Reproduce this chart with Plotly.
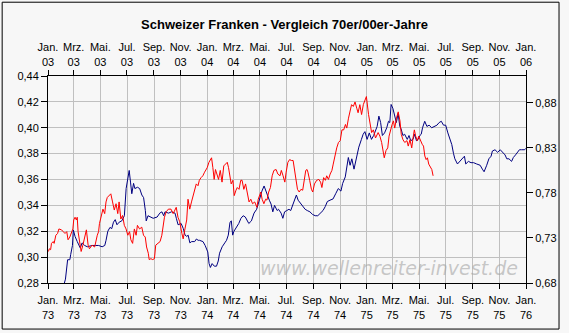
import plotly.graph_objects as go

# Swiss franc in US dollars, 1973-1975 (left axis, bottom date axis)
chf_70_dates = [
    "1973-01-02", "1973-01-22", "1973-02-01", "1973-02-07", "1973-02-10", "1973-02-15", "1973-02-20",
    "1973-02-22", "1973-02-26", "1973-02-28", "1973-03-04", "1973-03-09", "1973-03-13", "1973-03-16",
    "1973-03-20", "1973-03-26", "1973-04-01", "1973-04-12", "1973-04-20", "1973-04-27", "1973-05-05",
    "1973-05-11", "1973-05-14", "1973-05-18", "1973-05-23", "1973-05-27", "1973-05-31", "1973-06-04",
    "1973-06-08", "1973-06-13", "1973-06-19", "1973-06-25", "1973-06-29", "1973-07-03", "1973-07-06",
    "1973-07-09", "1973-07-12", "1973-07-16", "1973-07-19", "1973-07-25", "1973-07-30", "1973-08-04",
    "1973-08-08", "1973-08-12", "1973-08-14", "1973-08-18", "1973-08-23", "1973-08-30", "1973-09-08",
    "1973-09-14", "1973-09-19", "1973-09-23", "1973-09-26", "1973-10-04", "1973-10-11", "1973-10-19",
    "1973-10-22", "1973-10-26", "1973-11-02", "1973-11-07", "1973-11-11", "1973-11-15", "1973-11-18",
    "1973-11-22", "1973-11-26", "1973-12-03", "1973-12-07", "1973-12-11", "1973-12-14", "1973-12-22",
    "1973-12-27", "1974-01-02", "1974-01-05", "1974-01-08", "1974-01-12", "1974-01-17", "1974-01-22",
    "1974-01-26", "1974-01-29", "1974-02-04", "1974-02-10", "1974-02-14", "1974-02-18", "1974-02-22",
    "1974-02-25", "1974-02-28", "1974-03-03", "1974-03-09", "1974-03-14", "1974-03-19", "1974-03-24",
    "1974-03-29", "1974-04-03", "1974-04-06", "1974-04-12", "1974-04-18", "1974-04-24", "1974-04-29",
    "1974-05-03", "1974-05-06", "1974-05-11", "1974-05-16", "1974-05-19", "1974-05-23", "1974-05-27",
    "1974-05-31", "1974-06-04", "1974-06-10", "1974-06-13", "1974-06-19", "1974-06-23", "1974-06-27",
    "1974-07-02", "1974-07-07", "1974-07-11", "1974-07-16", "1974-07-21", "1974-07-24", "1974-07-28",
    "1974-08-03", "1974-08-08", "1974-08-13", "1974-08-18", "1974-08-24", "1974-08-30", "1974-09-05",
    "1974-09-11", "1974-09-17", "1974-09-23", "1974-09-28", "1974-10-03", "1974-10-09", "1974-10-16",
    "1974-10-22", "1974-10-28", "1974-11-03", "1974-11-07", "1974-11-13", "1974-11-16", "1974-11-20",
    "1974-11-24", "1974-11-28", "1974-12-03", "1974-12-07", "1974-12-10", "1974-12-14", "1974-12-20",
    "1974-12-24", "1974-12-28", "1975-01-02", "1975-01-07", "1975-01-12", "1975-01-17", "1975-01-23",
    "1975-01-25", "1975-01-29", "1975-02-02", "1975-02-06", "1975-02-11", "1975-02-16", "1975-02-20",
    "1975-02-23", "1975-02-26", "1975-03-02", "1975-03-06", "1975-03-10", "1975-03-14", "1975-03-18",
    "1975-03-21", "1975-03-25", "1975-03-29", "1975-04-04", "1975-04-08", "1975-04-12", "1975-04-17",
    "1975-04-21", "1975-04-25", "1975-04-29", "1975-05-03", "1975-05-06", "1975-05-09", "1975-05-14",
    "1975-05-19", "1975-05-24", "1975-05-30", "1975-06-06", "1975-06-11", "1975-06-16", "1975-06-21",
    "1975-06-26", "1975-07-01", "1975-07-06", "1975-07-11", "1975-07-15", "1975-07-19", "1975-07-22",
    "1975-07-28", "1975-08-03", "1975-08-08", "1975-08-13", "1975-08-16", "1975-08-22", "1975-08-28",
    "1975-09-03", "1975-09-10", "1975-09-18", "1975-09-23", "1975-09-27", "1975-10-03", "1975-10-08",
    "1975-10-13", "1975-10-16", "1975-10-22", "1975-10-28", "1975-11-03", "1975-11-08", "1975-11-14",
    "1975-11-18", "1975-11-23", "1975-11-29", "1975-12-03", "1975-12-08", "1975-12-12", "1975-12-17",
    "1975-12-22", "1975-12-29", "1975-12-31",
]
chf_70_values = [
    0.262, 0.264, 0.272, 0.280, 0.283, 0.298, 0.298,
    0.302, 0.309, 0.321, 0.316, 0.312, 0.309, 0.307,
    0.311, 0.309, 0.308, 0.309, 0.309, 0.309, 0.308,
    0.309, 0.313, 0.320, 0.323, 0.322, 0.327, 0.329,
    0.325, 0.327, 0.328, 0.332, 0.353, 0.363, 0.367,
    0.358, 0.349, 0.357, 0.353, 0.354, 0.353, 0.348,
    0.346, 0.336, 0.328, 0.332, 0.331, 0.330, 0.331,
    0.334, 0.335, 0.332, 0.335, 0.334, 0.335, 0.334,
    0.330, 0.325, 0.326, 0.322, 0.317, 0.316, 0.317,
    0.311, 0.312, 0.312, 0.314, 0.313, 0.313, 0.312,
    0.309, 0.304, 0.295, 0.292, 0.295, 0.293, 0.293,
    0.297, 0.303, 0.308, 0.311, 0.313, 0.317, 0.327,
    0.328, 0.317, 0.320, 0.323, 0.326, 0.330, 0.332,
    0.331, 0.327, 0.326, 0.328, 0.334, 0.337, 0.343,
    0.348, 0.351, 0.355, 0.350, 0.348, 0.344, 0.341,
    0.335, 0.340, 0.336, 0.337, 0.334, 0.330, 0.335,
    0.336, 0.337, 0.336, 0.341, 0.345, 0.348, 0.344,
    0.341, 0.339, 0.337, 0.336, 0.335, 0.333, 0.332,
    0.332, 0.334, 0.336, 0.339, 0.343, 0.344, 0.345,
    0.349, 0.353, 0.351, 0.357, 0.362, 0.368, 0.377,
    0.371, 0.376, 0.368, 0.374, 0.380, 0.385, 0.391,
    0.395, 0.397, 0.391, 0.396, 0.391, 0.394, 0.400,
    0.401, 0.409, 0.404, 0.394, 0.396, 0.400, 0.405,
    0.404, 0.418, 0.415, 0.409, 0.404, 0.411, 0.401,
    0.399, 0.394, 0.395, 0.391, 0.394, 0.390, 0.391,
    0.395, 0.390, 0.391, 0.394, 0.395, 0.400, 0.405,
    0.401, 0.402, 0.400, 0.401, 0.402, 0.404, 0.405,
    0.402, 0.402, 0.396, 0.391, 0.387, 0.380, 0.376,
    0.372, 0.374, 0.376, 0.378, 0.372, 0.374, 0.373,
    0.373, 0.372, 0.371, 0.368, 0.366, 0.371, 0.376,
    0.378, 0.382, 0.383, 0.381, 0.383, 0.381, 0.379,
    0.376, 0.376, 0.374, 0.377, 0.379, 0.381, 0.383,
    0.383, 0.383, 0.384,
]

# Swiss franc in US dollars, 2003-2005 (right axis, top date axis)
chf_00_dates = [
    "2003-01-02", "2003-01-04", "2003-01-07", "2003-01-09", "2003-01-13", "2003-01-15", "2003-01-19",
    "2003-01-23", "2003-01-26", "2003-02-01", "2003-02-05", "2003-02-09", "2003-02-13", "2003-02-16",
    "2003-02-20", "2003-02-24", "2003-02-27", "2003-03-01", "2003-03-04", "2003-03-07", "2003-03-09",
    "2003-03-11", "2003-03-14", "2003-03-18", "2003-03-22", "2003-03-26", "2003-03-30", "2003-04-03",
    "2003-04-06", "2003-04-12", "2003-04-18", "2003-04-24", "2003-04-27", "2003-04-29", "2003-05-03",
    "2003-05-07", "2003-05-11", "2003-05-14", "2003-05-17", "2003-05-22", "2003-05-25", "2003-05-29",
    "2003-06-02", "2003-06-06", "2003-06-10", "2003-06-13", "2003-06-17", "2003-06-21", "2003-06-25",
    "2003-06-29", "2003-07-03", "2003-07-07", "2003-07-10", "2003-07-14", "2003-07-18", "2003-07-22",
    "2003-07-25", "2003-07-30", "2003-08-04", "2003-08-08", "2003-08-12", "2003-08-15", "2003-08-19",
    "2003-08-21", "2003-08-25", "2003-08-29", "2003-09-02", "2003-09-05", "2003-09-10", "2003-09-15",
    "2003-09-19", "2003-09-22", "2003-09-25", "2003-09-29", "2003-10-04", "2003-10-10", "2003-10-15",
    "2003-10-19", "2003-10-22", "2003-10-26", "2003-10-30", "2003-11-04", "2003-11-07", "2003-11-11",
    "2003-11-15", "2003-11-18", "2003-11-22", "2003-11-26", "2003-11-30", "2003-12-03", "2003-12-07",
    "2003-12-11", "2003-12-14", "2003-12-18", "2003-12-22", "2003-12-26", "2004-01-01", "2004-01-05",
    "2004-01-08", "2004-01-11", "2004-01-14", "2004-01-17", "2004-01-20", "2004-01-23", "2004-01-27",
    "2004-01-31", "2004-02-04", "2004-02-08", "2004-02-12", "2004-02-16", "2004-02-19", "2004-02-22",
    "2004-02-25", "2004-02-29", "2004-03-03", "2004-03-07", "2004-03-10", "2004-03-14", "2004-03-18",
    "2004-03-21", "2004-03-25", "2004-03-29", "2004-04-03", "2004-04-06", "2004-04-10", "2004-04-14",
    "2004-04-19", "2004-04-24", "2004-04-27", "2004-05-03", "2004-05-06", "2004-05-10", "2004-05-14",
    "2004-05-17", "2004-05-21", "2004-05-25", "2004-05-29", "2004-06-02", "2004-06-07", "2004-06-11",
    "2004-06-16", "2004-06-19", "2004-06-23", "2004-06-27", "2004-06-30", "2004-07-04", "2004-07-08",
    "2004-07-12", "2004-07-16", "2004-07-19", "2004-07-22", "2004-07-26", "2004-07-30", "2004-08-03",
    "2004-08-07", "2004-08-11", "2004-08-14", "2004-08-17", "2004-08-19", "2004-08-23", "2004-08-27",
    "2004-08-30", "2004-09-03", "2004-09-08", "2004-09-13", "2004-09-17", "2004-09-20", "2004-09-24",
    "2004-09-28", "2004-10-01", "2004-10-05", "2004-10-09", "2004-10-13", "2004-10-16", "2004-10-20",
    "2004-10-24", "2004-10-28", "2004-11-01", "2004-11-05", "2004-11-09", "2004-11-13", "2004-11-16",
    "2004-11-20", "2004-11-24", "2004-11-27", "2004-12-01", "2004-12-05", "2004-12-09", "2004-12-12",
    "2004-12-16", "2004-12-20", "2004-12-24", "2004-12-27", "2004-12-31", "2005-01-05", "2005-01-08",
    "2005-01-12", "2005-01-16", "2005-01-21", "2005-01-27", "2005-01-31", "2005-02-04", "2005-02-08",
    "2005-02-10", "2005-02-14", "2005-02-18", "2005-02-21", "2005-02-25", "2005-02-28", "2005-03-03",
    "2005-03-06", "2005-03-10", "2005-03-14", "2005-03-18", "2005-03-21", "2005-03-25", "2005-03-29",
    "2005-04-03", "2005-04-06", "2005-04-10", "2005-04-14", "2005-04-17", "2005-04-20", "2005-04-23",
    "2005-04-27", "2005-04-30", "2005-05-04", "2005-05-08", "2005-05-11", "2005-05-14", "2005-05-17",
    "2005-05-20", "2005-05-23", "2005-05-26", "2005-05-30", "2005-06-02",
]
chf_00_values = [
    0.715, 0.718, 0.717, 0.724, 0.726, 0.724, 0.733,
    0.735, 0.740, 0.739, 0.737, 0.735, 0.737, 0.728,
    0.731, 0.737, 0.740, 0.750, 0.753, 0.750, 0.753,
    0.737, 0.726, 0.715, 0.722, 0.731, 0.739, 0.722,
    0.718, 0.722, 0.720, 0.733, 0.737, 0.746, 0.753,
    0.762, 0.757, 0.770, 0.775, 0.777, 0.779, 0.770,
    0.761, 0.768, 0.757, 0.770, 0.751, 0.755, 0.744,
    0.740, 0.733, 0.737, 0.728, 0.724, 0.740, 0.733,
    0.744, 0.740, 0.742, 0.733, 0.731, 0.720, 0.713,
    0.706, 0.707, 0.706, 0.707, 0.722, 0.724, 0.726,
    0.733, 0.742, 0.753, 0.759, 0.762, 0.762, 0.757,
    0.761, 0.764, 0.753, 0.748, 0.735, 0.729, 0.740,
    0.750, 0.773, 0.762, 0.770, 0.777, 0.784, 0.790,
    0.788, 0.794, 0.797, 0.799, 0.803, 0.808, 0.814,
    0.817, 0.819, 0.808, 0.795, 0.806, 0.801, 0.795,
    0.805, 0.792, 0.810, 0.812, 0.814, 0.808, 0.797,
    0.790, 0.794, 0.777, 0.783, 0.786, 0.784, 0.794,
    0.794, 0.784, 0.790, 0.777, 0.770, 0.773, 0.768,
    0.770, 0.764, 0.773, 0.781, 0.773, 0.768, 0.773,
    0.772, 0.781, 0.786, 0.799, 0.805, 0.806, 0.801,
    0.799, 0.805, 0.799, 0.792, 0.803, 0.814, 0.817,
    0.816, 0.816, 0.806, 0.795, 0.784, 0.781, 0.784,
    0.783, 0.797, 0.805, 0.806, 0.803, 0.794, 0.784,
    0.781, 0.790, 0.794, 0.795, 0.792, 0.786, 0.797,
    0.794, 0.799, 0.795, 0.801, 0.805, 0.812, 0.823,
    0.830, 0.836, 0.838, 0.850, 0.850, 0.856, 0.852,
    0.863, 0.872, 0.878, 0.876, 0.881, 0.874, 0.869,
    0.878, 0.867, 0.878, 0.883, 0.887, 0.867, 0.856,
    0.847, 0.850, 0.841, 0.847, 0.843, 0.836, 0.823,
    0.819, 0.827, 0.830, 0.843, 0.852, 0.856, 0.860,
    0.852, 0.863, 0.870, 0.860, 0.845, 0.839, 0.836,
    0.838, 0.832, 0.839, 0.830, 0.841, 0.850, 0.843,
    0.838, 0.843, 0.838, 0.834, 0.832, 0.821, 0.817,
    0.819, 0.812, 0.810, 0.806, 0.799,
]

# Axis tick labels
month_names = ["Jan.", "Mrz.", "Mai.", "Jul.", "Sep.", "Nov."]
month_numbers = ["01", "03", "05", "07", "09", "11"]
years_70 = ["1973", "1974", "1975"]
years_00 = ["2003", "2004", "2005"]
left_ticks = [0.28, 0.30, 0.32, 0.34, 0.36, 0.38, 0.40, 0.42, 0.44]
right_ticks = [0.68, 0.73, 0.78, 0.83, 0.88]


def date_ticks(years, last_year):
    vals, texts = [], []
    for y in years:
        for name, num in zip(month_names, month_numbers):
            vals.append(f"{y}-{num}-01")
            texts.append(f"{name}<br>{y[2:]}")
    vals.append(f"{last_year}-01-01")
    texts.append(f"Jan.<br>{last_year[2:]}")
    return vals, texts


x_vals, x_text = date_ticks(years_70, "1976")
x2_vals, x2_text = date_ticks(years_00, "2006")

FONT = "Liberation Sans, Arial, sans-serif"
BG = "#F7F7F7"

fig = go.Figure()
fig.add_trace(go.Scatter(
    x=chf_70_dates, y=chf_70_values, mode="lines",
    line=dict(color="#000080", width=1), xaxis="x", yaxis="y",
    name="1973-1975", showlegend=False, hoverinfo="skip",
))
fig.add_trace(go.Scatter(
    x=chf_00_dates, y=chf_00_values, mode="lines",
    line=dict(color="#FF0000", width=1), xaxis="x2", yaxis="y2",
    name="2003-2005", showlegend=False, hoverinfo="skip",
))

tick_font = dict(family=FONT, size=11, color="#000000")

fig.update_layout(
    width=569, height=333,
    margin=dict(l=48, r=36, t=76, b=48),
    paper_bgcolor=BG, plot_bgcolor=BG,
    separators=",.",
    title=dict(
        text="<b>Schweizer Franken - Vergleich 70er/00er-Jahre</b>",
        font=dict(family=FONT, size=13, color="#000000"),
        x=0.5, xref="container", xanchor="center",
        y=1 - 24 / 333, yref="container", yanchor="middle",
    ),
    xaxis=dict(
        type="date", range=["1973-01-01", "1976-01-01"],
        tickmode="array", tickvals=x_vals, ticktext=x_text,
        ticks="outside", ticklen=5, tickcolor="#000000",
        ticklabelstandoff=2,
        showgrid=True, gridcolor="#C0C0C0", gridwidth=1,
        showline=True, linecolor="#000000", linewidth=1,
        tickfont=tick_font, zeroline=False, fixedrange=True,
    ),
    xaxis2=dict(
        type="date", range=["2003-01-01", "2006-01-01"],
        overlaying="x", side="top", anchor="y2",
        tickmode="array", tickvals=x2_vals, ticktext=x2_text,
        ticks="outside", ticklen=5, tickcolor="#000000",
        showgrid=False, showline=True, linecolor="#000000", linewidth=1,
        tickfont=tick_font, zeroline=False,
    ),
    yaxis=dict(
        range=[0.28, 0.44], tickmode="array", tickvals=left_ticks,
        tickformat=".2f", ticks="outside", ticklen=6, tickcolor="#000000",
        showgrid=True, gridcolor="#C0C0C0", gridwidth=1,
        showline=True, linecolor="#000000", linewidth=1,
        tickfont=tick_font, zeroline=False,
    ),
    yaxis2=dict(
        range=[0.68, 0.9098], overlaying="y", side="right", anchor="x2",
        tickmode="array", tickvals=right_ticks, tickformat=".2f",
        ticks="outside", ticklen=6, tickcolor="#000000",
        showgrid=False, showline=True, linecolor="#000000", linewidth=1,
        tickfont=tick_font, zeroline=False,
    ),
)

# Watermark
fig.add_annotation(
    text="<i>www.wellenreiter-invest.de</i>",
    xref="paper", yref="paper", x=(394 - 48) / 485, y=(285 - 270) / 209,
    xanchor="center", yanchor="middle", showarrow=False,
    font=dict(family="DejaVu Sans, Verdana, sans-serif", size=19,
              color="rgba(165,165,165,0.6)"),
)

# Frame around the whole chart
fig.add_shape(
    type="rect", xref="paper", yref="paper",
    x0=(1.5 - 48) / 485, x1=(566.5 - 48) / 485,
    y0=(285 - 331.5) / 209, y1=(285 - 1.5) / 209,
    line=dict(color="#000000", width=1), fillcolor="rgba(0,0,0,0)",
    layer="above",
)

fig.write_html("out.html", config={"displayModeBar": False})
